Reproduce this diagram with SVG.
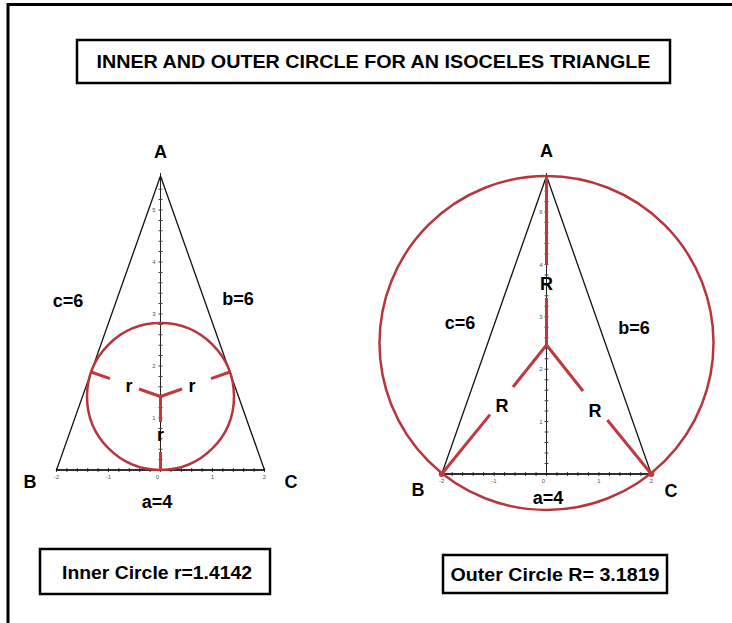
<svg xmlns="http://www.w3.org/2000/svg" width="732" height="623" viewBox="0 0 732 623">
<style>
.lbl{font-family:"Liberation Sans",Arial,sans-serif;font-weight:bold;font-size:18px;fill:#000;text-anchor:middle}
.tick{font-family:"Liberation Sans",Arial,sans-serif;font-size:6px;fill:#555;text-anchor:middle}
.box{fill:#fff;stroke:#000;stroke-width:2.5}
.tri{fill:none;stroke:#111;stroke-width:1.3}
.axis{stroke:#222;stroke-width:1}
.tk{stroke:#444;stroke-width:4;stroke-dasharray:1 9.4}
.tk2{stroke:#444;stroke-width:4;stroke-dasharray:1 9.48}
.circ{fill:none;stroke:#b6363c;stroke-width:2.5}
.rad{fill:none;stroke:#c0393f;stroke-width:3}
</style>
<rect width="732" height="623" fill="#fff"/>
<g id="frame">
<line x1="8" y1="3" x2="8" y2="623" stroke="#000" stroke-width="3"/>
<line x1="7" y1="4.5" x2="732" y2="4.5" stroke="#000" stroke-width="3"/>
</g>
<g id="title">
<rect class="box" x="77" y="40" width="593" height="43"/>
<text class="lbl" x="373.5" y="68" font-size="20" textLength="554" lengthAdjust="spacingAndGlyphs">INNER AND OUTER CIRCLE FOR AN ISOCELES TRIANGLE</text>
</g>
<g id="left-figure">
<g id="left-axes">
<line class="axis" x1="160.5" y1="470" x2="160.5" y2="173"/>
<line class="axis" x1="56.5" y1="470" x2="264.5" y2="470"/>
<line class="tk" x1="160.5" y1="470.5" x2="160.5" y2="176"/>
<line class="tk" x1="56" y1="470" x2="266" y2="470"/>
<text class="tick" x="154" y="212">5</text>
<text class="tick" x="154" y="264">4</text>
<text class="tick" x="154" y="316">3</text>
<text class="tick" x="154" y="368">2</text>
<text class="tick" x="154" y="420">1</text>
<text class="tick" x="56.5" y="479">-2</text>
<text class="tick" x="108.5" y="479">-1</text>
<text class="tick" x="157.5" y="479">0</text>
<text class="tick" x="212.5" y="479">1</text>
<text class="tick" x="264.5" y="479">2</text>
</g>
<polygon id="left-triangle" class="tri" points="160.5,176 56.5,470 264.5,470"/>
<circle id="incircle" class="circ" cx="160.5" cy="396.5" r="73.5"/>
<g id="inradii">
<path class="rad" d="M160.5,396.5 L139,389 M110,378.6 L91.2,372 M160.5,396.5 L182,389 M211,378.6 L229.8,372 M160.5,396.5 V422 M160.5,452 V470"/>
</g>
<text class="lbl" x="160.5" y="158">A</text>
<text class="lbl" x="68" y="307">c=6</text>
<text class="lbl" x="238" y="305">b=6</text>
<text class="lbl" x="30" y="488">B</text>
<text class="lbl" x="291" y="488">C</text>
<text class="lbl" x="157" y="508">a=4</text>
<text class="lbl" x="129" y="392">r</text>
<text class="lbl" x="192" y="392">r</text>
<text class="lbl" x="160.5" y="441">r</text>
</g>
<g id="right-figure">
<g id="right-axes">
<line class="axis" x1="546.5" y1="474" x2="546.5" y2="173"/>
<line class="axis" x1="441.7" y1="474" x2="651.3" y2="474"/>
<line class="tk2" x1="546.5" y1="474.5" x2="546.5" y2="178"/>
<line class="tk2" x1="441.2" y1="474" x2="652" y2="474"/>
<text class="tick" x="541" y="214">6</text>
<text class="tick" x="541" y="267">4</text>
<text class="tick" x="541" y="319">3</text>
<text class="tick" x="541" y="371">2</text>
<text class="tick" x="541" y="424">1</text>
<text class="tick" x="441.7" y="483">-2</text>
<text class="tick" x="494" y="483">-1</text>
<text class="tick" x="543.5" y="483">0</text>
<text class="tick" x="599" y="483">1</text>
<text class="tick" x="651.3" y="483">2</text>
</g>
<polygon id="right-triangle" class="tri" points="546.5,176 441.7,474 651.3,474"/>
<circle id="circumcircle" class="circ" cx="546.5" cy="343" r="167"/>
<g id="circumradii">
<path class="rad" d="M546.5,176 V265 M546.5,298 V345 M546.5,345 L513,387 M490,414.6 L441.7,474 M546.5,345 L583,391 M607.3,420 L651.3,474"/>
<circle cx="441.7" cy="474" r="3" fill="#c0393f"/>
<circle cx="651.3" cy="474" r="3" fill="#c0393f"/>
</g>
<text class="lbl" x="546.5" y="157">A</text>
<text class="lbl" x="546.5" y="290">R</text>
<text class="lbl" x="460" y="329">c=6</text>
<text class="lbl" x="634" y="334">b=6</text>
<text class="lbl" x="502" y="412">R</text>
<text class="lbl" x="595" y="417">R</text>
<text class="lbl" x="418" y="496">B</text>
<text class="lbl" x="671" y="497">C</text>
<text class="lbl" x="548" y="504">a=4</text>
</g>
<g id="inner-result">
<rect class="box" x="40" y="549" width="230" height="45" stroke-width="3"/>
<text class="lbl" x="157" y="579" font-size="19" textLength="190" lengthAdjust="spacingAndGlyphs">Inner Circle r=1.4142</text>
</g>
<g id="outer-result">
<rect class="box" x="443" y="555" width="224" height="38" stroke-width="3"/>
<text class="lbl" x="555" y="581" font-size="19" textLength="209" lengthAdjust="spacingAndGlyphs">Outer Circle R= 3.1819</text>
</g>
</svg>
